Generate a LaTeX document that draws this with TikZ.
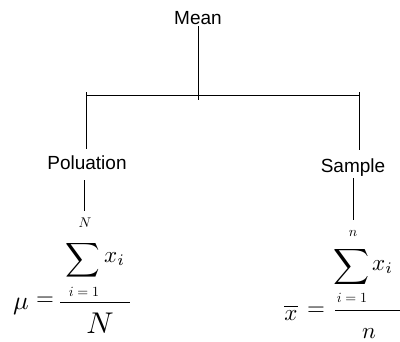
\documentclass[tikz,border=0pt]{standalone}
\usepackage{graphicx}
\usepackage{fontspec}
\setmainfont{Liberation Sans}
\newcommand{\sm}[2]{\scalebox{#1}{$\displaystyle #2$}}
\begin{document}
\begin{tikzpicture}[x=1pt,y=-1pt,
  lbl/.style={inner sep=0pt,font=\fontsize{19}{22}\selectfont},
  mth/.style={inner sep=0pt},
  ln/.style={line width=0.9pt,black}]
\useasboundingbox (0,0) rectangle (400,341);
% labels
\node[lbl] (mean) at (198,18) {Mean};
\node[lbl] (pop) at (87,163) {Poluation};
\node[lbl] (samp) at (353,168) {Sample};
% junctions
\coordinate (mj) at (198,100);
\coordinate (hl) at (86,92);
\coordinate (hr) at (359,92);
\coordinate (hlb) at (86,95);
\coordinate (hrb) at (359,95);
\coordinate (pl) at (86,149);
\coordinate (sl) at (359,150);
\coordinate (pe) at (84,211);
\coordinate (se) at (353,220);
% tree lines
\draw[ln] (198,26) -- (mj);
\draw[ln] (hlb) -- (hrb);
\draw[ln] (hl) -- (pl);
\draw[ln] (hr) -- (sl);
\draw[ln] (84,180) -- (pe);
\draw[ln] (353,178) -- (se);
% left formula
\node[mth] (ntop) at (85,223) {\sm{1.4}{N}};
\node[mth] (sumL) at (83,260) {\sm{2.4}{\sum}};
\node[mth,anchor=base west] (xL) at (104,262) {\sm{2.3}{x_i}};
\node[mth] (ilo) at (84,292) {\sm{1.4}{i=1}};
\node[mth,anchor=base] (mu) at (21,309) {\sm{2.6}{\mu}};
\node[mth] (eqL) at (45,301) {\sm{2.3}{=}};
\node[mth,anchor=base] (nden) at (100,333) {\sm{3.0}{N}};
\coordinate (fl1) at (60,302);
\coordinate (fl2) at (130,302);
\draw[ln] (fl1) -- (fl2);
% right formula
\node[mth] (ntopR) at (353,233) {\sm{1.4}{n}};
\node[mth] (sumR) at (352,267) {\sm{2.5}{\sum}};
\node[mth,anchor=base west] (xR) at (372,270) {\sm{2.3}{x_i}};
\node[mth] (iloR) at (352,298) {\sm{1.4}{i=1}};
\node[mth,anchor=base] (xbar) at (291,320) {\sm{2.3}{\overline{x}}};
\node[mth] (eqR) at (316,311) {\sm{2.3}{=}};
\node[mth,anchor=base] (nR) at (369,338) {\sm{2.3}{n}};
\coordinate (fr1) at (335,310);
\coordinate (fr2) at (400,310);
\draw[ln] (fr1) -- (fr2);
\end{tikzpicture}
\end{document}
